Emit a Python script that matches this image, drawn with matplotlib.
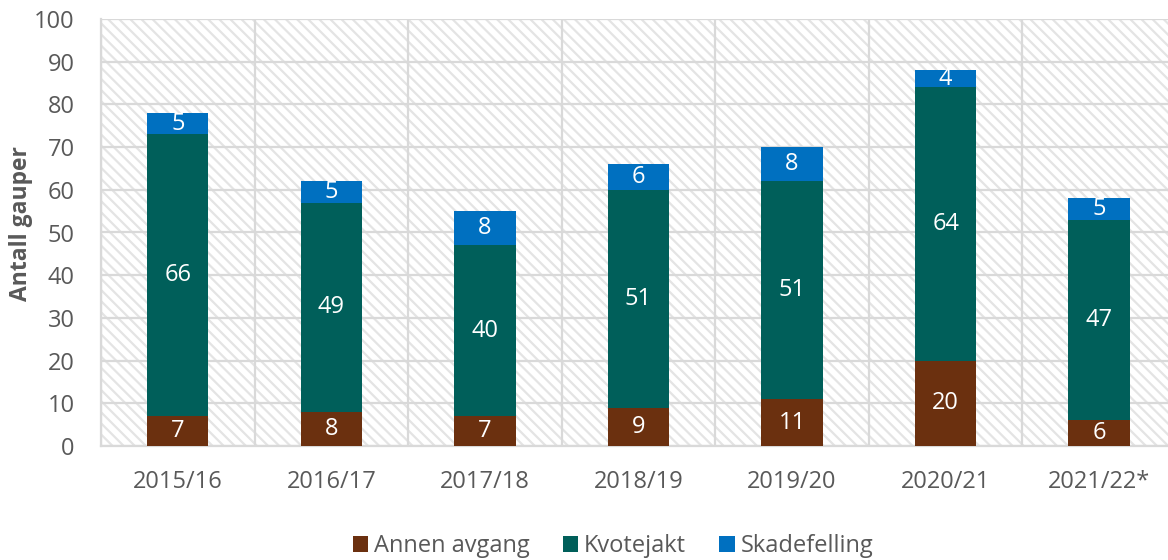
import matplotlib
matplotlib.use("Agg")
import matplotlib.pyplot as plt
from matplotlib.patches import Rectangle
import numpy as np

categories = ["2015/16", "2016/17", "2017/18", "2018/19", "2019/20", "2020/21", "2021/22*"]
annen = [7, 8, 7, 9, 11, 20, 6]
kvote = [66, 49, 40, 51, 51, 64, 47]
skade = [5, 5, 8, 6, 8, 4, 5]
series_names = ["Annen avgang", "Kvotejakt", "Skadefelling"]
colors = ["#6B300F", "#005F5A", "#0070C0"]

plt.rcParams['font.family'] = ['Open Sans', 'DejaVu Sans']
plt.rcParams['hatch.linewidth'] = 1.6
grid_c = "#D9D9D9"
text_c = "#595959"

fig = plt.figure(figsize=(11.68, 5.60), dpi=100)
ax = fig.add_axes([101/1168, 114/560, 1075/1168, 427/560])

bg = Rectangle((0, 0), 1, 1, transform=ax.transAxes, facecolor="white",
               edgecolor="#E4E4E4", hatch="\\\\\\", linewidth=0, zorder=0)
ax.add_patch(bg)

x = np.arange(len(categories))
width = 0.40
bottom = np.zeros(len(categories))
handles = []
for vals, name, col in zip([annen, kvote, skade], series_names, colors):
    vals = np.array(vals)
    b = ax.bar(x, vals, width, bottom=bottom, color=col, label=name, zorder=3)
    handles.append(b)
    for xi, v, bt in zip(x, vals, bottom):
        ax.text(xi, bt + v / 2, str(v), ha="center", va="center",
                color="white", fontsize=17, zorder=4)
    bottom = bottom + vals

ax.set_xlim(-0.5, len(categories) - 0.5)
ax.set_ylim(0, 100)
ax.set_yticks(np.arange(0, 101, 10))
ax.set_xticks(x)
ax.set_xticklabels(categories)
ax.set_xticks(np.arange(-0.5, len(categories), 1), minor=True)

ax.grid(axis="y", which="major", color=grid_c, linewidth=1.6, zorder=1)
ax.grid(axis="x", which="minor", color=grid_c, linewidth=1.6, zorder=1)
ax.grid(axis="x", which="major", visible=False)
ax.set_axisbelow(True)
for s in ["top", "right"]:
    ax.spines[s].set_visible(False)
for s in ["left", "bottom"]:
    ax.spines[s].set_color(grid_c)
    ax.spines[s].set_linewidth(1.6)

ax.tick_params(axis="both", which="both", length=0, colors=text_c, labelsize=17)
ax.tick_params(axis="y", pad=19)
ax.tick_params(axis="x", pad=17)

ax.set_ylabel("Antall gauper", fontsize=16.5, fontweight="bold", color=text_c)
ax.yaxis.set_label_coords(-68/1075, 0.522)

fig.legend(handles=handles, labels=series_names, loc="center", bbox_to_anchor=(613/1168, 1 - 546/560),
           ncol=3, frameon=False, fontsize=17, labelcolor=text_c, handlelength=0.65, handleheight=0.65,
           handletextpad=0.25, columnspacing=1.4)

fig.savefig("out.png", dpi=100)
